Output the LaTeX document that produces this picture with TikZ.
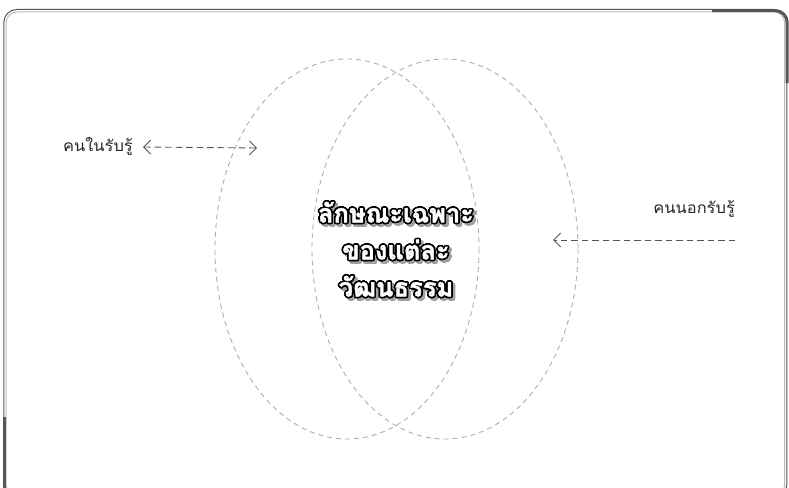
\documentclass[tikz,border=0pt]{standalone}
\usepackage{fontspec}
\usepackage{contour}
\usetikzlibrary{arrows.meta}
\newfontfamily\thaifont[Script=Thai, FakeStretch=1.06]{Loma}
\newfontfamily\thaitop[Script=Thai, FakeBold=1.5]{Loma Bold}
\contourlength{1.6pt}
\contournumber{24}
\definecolor{framedark}{HTML}{555555}
\definecolor{framelight}{HTML}{BBBBBB}
\definecolor{ellgray}{HTML}{AFAFAF}
\definecolor{arrgray}{HTML}{555555}
\definecolor{shadowgray}{HTML}{A0A0A0}
\tikzset{
  ell/.style={draw=ellgray, line width=0.9pt, dash pattern=on 5pt off 4pt},
  arr/.style={draw=arrgray, line width=0.9pt, dash pattern=on 6.5pt off 4pt,
    arrows={-Straight Barb[length=7pt,width=14pt,line width=0.9pt]}},
  arrboth/.style={arr, arrows={Straight Barb[length=7pt,width=14pt,line width=0.9pt]-Straight Barb[length=7pt,width=14pt,line width=0.9pt]}},
  lbl/.style={font=\thaifont\fontsize{15.5}{18}\selectfont, text=black!85, inner sep=0pt},
  ctext/.style={align=center, inner sep=0pt, font={\thaitop\fontsize{25.5}{37}\selectfont}},
}
\begin{document}
\begin{tikzpicture}[x=1pt,y=-1pt]
\useasboundingbox (0,0) rectangle (789,487);
\clip (0,0) rectangle (789,487);
\fill[white] (0,0) rectangle (789,487);
% frame
\draw[framedark, line width=1pt, rounded corners=13] (3.8,9.5) rectangle (786.8,498);
\draw[framelight, line width=1pt, rounded corners=11] (6.2,11.8) rectangle (784.6,496);
\draw[framedark, line width=3pt, rounded corners=12] (712,10.6) -- (787.2,10.6) -- (787.2,83);
\draw[framedark, line width=3pt] (4.6,417) -- (4.6,492);
% ellipses
\draw[ell] (347,249) ellipse [x radius=132, y radius=190];
\draw[ell] (445,249) ellipse [x radius=133, y radius=190];
% labels
\node[lbl, anchor=east, inner xsep=10pt] (lin) at (143,147) {คนในรับรู้};
\coordinate (la) at (257,148);
\draw[arrboth] (lin.east) -- (la);
\node[lbl, anchor=east] (lout) at (735,209) {คนนอกรับรู้};
\coordinate (ra) at (735,240);
\coordinate (rb) at (553,240);
\draw[arr] (ra) -- (rb);
% centre text: shadow, then outlined white text
\node[ctext, text=shadowgray] (cshadow) at (398.5,252.5) {\contour{shadowgray}{ลักษณะเฉพาะ}\\\contour{shadowgray}{ของแต่ละ}\\\contour{shadowgray}{วัฒนธรรม}};
\node[ctext, text=white] (center) at (396,250) {\contour{black}{ลักษณะเฉพาะ}\\\contour{black}{ของแต่ละ}\\\contour{black}{วัฒนธรรม}};
\end{tikzpicture}
\end{document}
